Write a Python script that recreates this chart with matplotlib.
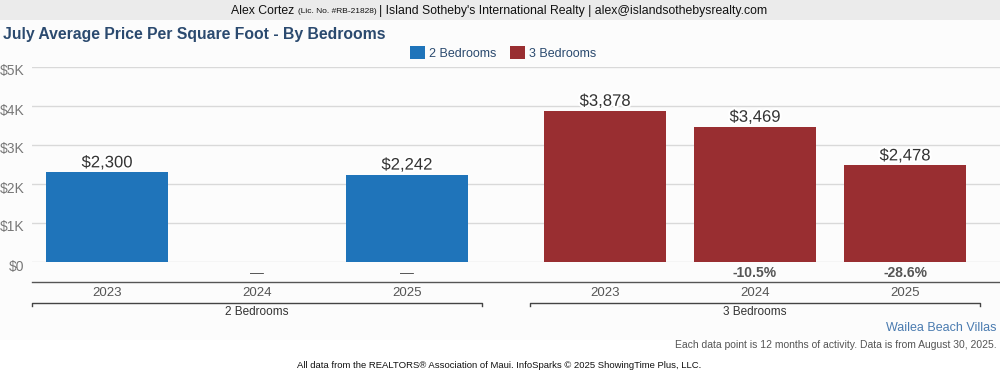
import matplotlib
matplotlib.use('Agg')
import matplotlib.pyplot as plt
import matplotlib.patheffects as pe
import matplotlib.transforms as mtransforms
from matplotlib.patches import Rectangle

# data
groups = ['2 Bedrooms', '3 Bedrooms']
years = ['2023', '2024', '2025']
values_2br = [2300, None, 2242]
values_3br = [3878, 3469, 2478]
change_2br = [None, '\u2014', '\u2014']
change_3br = [None, '-10.5%', '-28.6%']
colors = {'2 Bedrooms': '#1f74ba', '3 Bedrooms': '#992e31'}
yticks = [0, 1000, 2000, 3000, 4000, 5000]
ytick_labels = ['$0', '$1K', '$2K', '$3K', '$4K', '$5K']

plt.rcParams['font.family'] = ['Liberation Sans', 'DejaVu Sans']

fig = plt.figure(figsize=(10, 3.75), dpi=100)
fig.patch.set_facecolor('white')

# light panel background + header band
fig.patches.append(Rectangle((0, 1 - 340 / 375), 1, 340 / 375, transform=fig.transFigure,
                             facecolor='#fcfcfc', edgecolor='none', zorder=-2))
fig.patches.append(Rectangle((0, 1 - 20 / 375), 1, 20 / 375, transform=fig.transFigure,
                             facecolor='#ebebeb', edgecolor='none', zorder=-1))

# header line, pieces placed one after another
renderer = fig.canvas.get_renderer()
hy = 1 - 11 / 375
x = 231 / 1000
for txt, fs, dy in [("Alex Cortez ", 8.8, 0), ("(Lic. No. #RB-21828) ", 6, -0.5 / 375),
                    ("| Island Sotheby's International Realty | alex@islandsothebysrealty.com", 8.8, 0)]:
    t = fig.text(x, hy + dy, txt, ha='left', va='center', fontsize=fs, color='#111')
    bb = t.get_window_extent(renderer)
    x += bb.width / fig.bbox.width

fig.text(0.003, 1 - 34 / 375, "July Average Price Per Square Foot - By Bedrooms", ha='left', va='center',
         fontsize=11.3, fontweight='bold', color='#2b4a6f')

ax = fig.add_axes([32 / 1000, 1 - 262 / 375, 968 / 1000, 195 / 375])
ax.set_facecolor('none')

gap = 0.32
bw = 0.815
xs_2br = [float(i) for i in range(len(years))]
xs_3br = [len(years) + gap + i for i in range(len(years))]

for series, xs, vals in [(groups[0], xs_2br, values_2br), (groups[1], xs_3br, values_3br)]:
    for xv, v in zip(xs, vals):
        if v is None:
            continue
        ax.bar(xv, v, width=bw, color=colors[series], zorder=3)
        t = ax.text(xv, v + 50, '${:,}'.format(v), ha='center', va='bottom', fontsize=12, color='#333', zorder=4)
        t.set_path_effects([pe.withStroke(linewidth=3, foreground='white')])

ax.set_xlim(-0.5, -0.5 + 968 / 150)
ax.set_ylim(0, 5000)
ax.set_yticks(yticks)
ax.set_yticklabels(ytick_labels)
ax.tick_params(axis='y', length=0, labelsize=10, labelcolor='#777', pad=5.5)
ax.tick_params(axis='x', length=0, labelbottom=False)
ax.grid(axis='y', color='#d9d9d9', linewidth=1, zorder=0)
for s in ax.spines.values():
    s.set_visible(False)
# labels sit a little below their grid line
shift = mtransforms.ScaledTranslation(0, -3 / 100, fig.dpi_scale_trans)
for lab in ax.get_yticklabels():
    lab.set_transform(lab.get_transform() + shift)

trans = ax.get_xaxis_transform()
def fy(px):
    # figure pixel row -> axes fraction y
    return (262 - px) / 195.0

# change row
for xs, changes in [(xs_2br, change_2br), (xs_3br, change_3br)]:
    for xv, c in zip(xs, changes):
        if c is None:
            continue
        bold = 'bold' if c != '\u2014' else 'normal'
        ax.text(xv, fy(273), c, ha='center', va='center', fontsize=10, fontweight=bold, color='#555',
                transform=trans, clip_on=False)

ax.plot([-0.5, -0.5 + 968 / 150], [fy(282), fy(282)], color='#555', lw=1, transform=trans, clip_on=False)

# year labels and group brackets
for xs, g in [(xs_2br, groups[0]), (xs_3br, groups[1])]:
    for xv, yr in zip(xs, years):
        ax.text(xv, fy(293), yr, ha='center', va='center', fontsize=9.5, color='#555',
                transform=trans, clip_on=False)
    x0, x1 = xs[0] - 0.5, xs[-1] + 0.5
    ax.plot([x0, x0, x1, x1], [fy(306), fy(303), fy(303), fy(306)], color='#444', lw=1,
            transform=trans, clip_on=False)
    ax.text((x0 + x1) / 2, fy(312), g, ha='center', va='center', fontsize=8.5, color='#333',
            transform=trans, clip_on=False)

# legend
handles = [Rectangle((0, 0), 1, 1, facecolor=colors[g], edgecolor='none') for g in groups]
fig.legend(handles, groups, loc='center', bbox_to_anchor=(0.503, 1 - 53 / 375), ncol=2, frameon=False,
           fontsize=9, handlelength=1.2, handleheight=1.2, handletextpad=0.3, columnspacing=1.1,
           labelcolor='#2b4a6f')

fig.text(0.997, 1 - 328 / 375, "Wailea Beach Villas", ha='right', va='center', fontsize=9, color='#4a7bb0')
fig.text(0.997, 1 - 345 / 375, "Each data point is 12 months of activity. Data is from August 30, 2025.",
         ha='right', va='center', fontsize=7.5, color='#555')
fig.text(0.499, 1 - 365 / 375, "All data from the REALTORS\u00ae Association of Maui. InfoSparks \u00a9 2025 ShowingTime Plus, LLC.",
         ha='center', va='center', fontsize=6.8, color='#111')

fig.savefig('out.png', dpi=100)
